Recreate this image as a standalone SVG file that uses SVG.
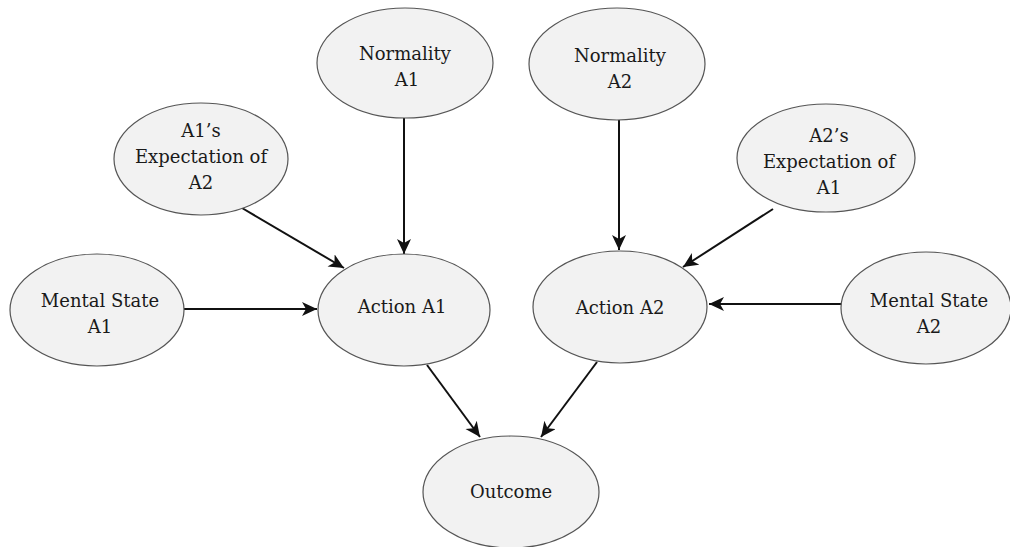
<svg xmlns="http://www.w3.org/2000/svg" width="1010" height="547" viewBox="0 0 1010 547">
<style>
.node ellipse{fill:#f2f2f2;stroke:#555;stroke-width:1.2}
.node text{font-family:"DejaVu Serif",serif;font-size:18px;fill:#1a1a1a;text-anchor:middle}
.edge{stroke:#111;stroke-width:2;fill:none;marker-end:url(#ah)}
</style>
<defs>
<marker id="ah" markerUnits="userSpaceOnUse" markerWidth="17" markerHeight="16" refX="15" refY="7" orient="auto">
<path d="M0,0 L15,7 L0,14 L4,7 z" fill="#111"/>
</marker>
</defs>
<rect width="1010" height="547" fill="#fff"/>
<g id="connectors">
<line class="edge" x1="404" y1="118" x2="404" y2="254"/>
<line class="edge" x1="242" y1="208" x2="344" y2="268"/>
<line class="edge" x1="184" y1="309" x2="317" y2="309"/>
<line class="edge" x1="427" y1="365" x2="480" y2="437"/>
<line class="edge" x1="597" y1="362" x2="541" y2="437"/>
<line class="edge" x1="619" y1="120" x2="619" y2="250"/>
<line class="edge" x1="773" y1="209" x2="683" y2="267"/>
<line class="edge" x1="842" y1="304" x2="709" y2="304"/>
</g>
<g id="normality-a1" class="node"><ellipse cx="405" cy="63" rx="88" ry="55"/><text x="405" y="60">Normality</text><text x="407" y="86">A1</text></g>
<g id="expectation-a1" class="node"><ellipse cx="201" cy="159" rx="87" ry="56"/><text x="201" y="137">A1’s</text><text x="201" y="163">Expectation of</text><text x="201" y="189">A2</text></g>
<g id="mental-a1" class="node"><ellipse cx="97" cy="310" rx="87" ry="56"/><text x="100" y="307">Mental State</text><text x="100" y="333">A1</text></g>
<g id="action-a1" class="node"><ellipse cx="404" cy="310" rx="86" ry="56"/><text x="402" y="313">Action A1</text></g>
<g id="normality-a2" class="node"><ellipse cx="617" cy="64" rx="88" ry="56"/><text x="620" y="62">Normality</text><text x="620" y="88">A2</text></g>
<g id="expectation-a2" class="node"><ellipse cx="826" cy="158" rx="89" ry="54"/><text x="829" y="142">A2’s</text><text x="829" y="168">Expectation of</text><text x="829" y="194">A1</text></g>
<g id="action-a2" class="node"><ellipse cx="620" cy="307" rx="87" ry="56"/><text x="620" y="314">Action A2</text></g>
<g id="mental-a2" class="node"><ellipse cx="926" cy="308" rx="85" ry="56"/><text x="929" y="307">Mental State</text><text x="929" y="333">A2</text></g>
<g id="outcome" class="node"><ellipse cx="511" cy="492" rx="88" ry="56"/><text x="511" y="498">Outcome</text></g>
</svg>
